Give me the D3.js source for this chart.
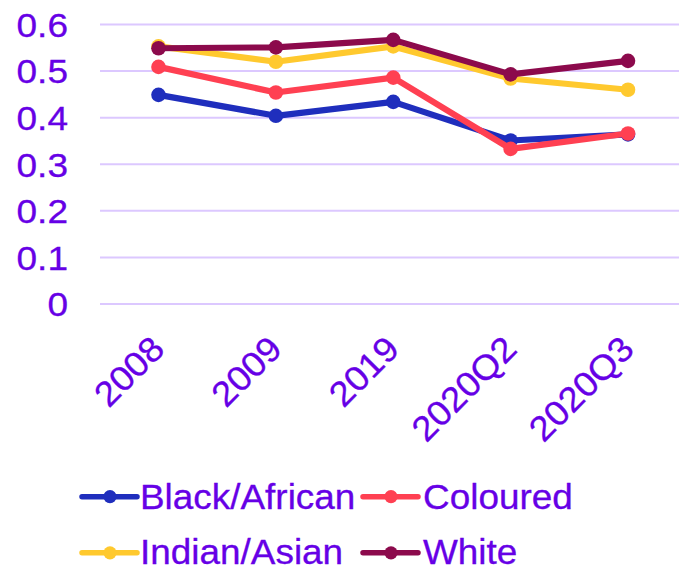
<!DOCTYPE html>
<html>
<head>
<meta charset="utf-8">
<script src="https://cdn.jsdelivr.net/npm/d3@7"></script>
<style>
  html, body { margin: 0; padding: 0; background: #fff; }
  svg { display: block; }
  text { font-family: "Liberation Sans", Arial, sans-serif; fill: #6600E6; stroke: #6600E6; stroke-width: 0.3px; }
</style>
</head>
<body>
<svg id="chart" width="679" height="571"></svg>
<script>
// Categories and series
const categories = ["2008", "2009", "2019", "2020Q2", "2020Q3"];
const blackAfrican = [0.449, 0.404, 0.434, 0.351, 0.364];
const coloured     = [0.509, 0.454, 0.486, 0.333, 0.366];
const indianAsian  = [0.553, 0.520, 0.553, 0.484, 0.460];
const white        = [0.549, 0.551, 0.567, 0.493, 0.522];
const yTicks = [0, 0.1, 0.2, 0.3, 0.4, 0.5, 0.6];

const seriesNames  = ["Black/African", "Coloured", "Indian/Asian", "White"];
const seriesValues = [blackAfrican, coloured, indianAsian, white];
const seriesColors = ["#1F2EBD", "#FF4052", "#FFC92E", "#8C0A4C"];

const svg = d3.select("#chart");

const x = d3.scalePoint().domain(categories).range([158.5, 628]);
const y = d3.scaleLinear().domain([0, 0.6]).range([304, 24.5]);

// Horizontal gridlines
svg.append("g")
  .selectAll("line")
  .data(yTicks)
  .join("line")
  .attr("x1", 100).attr("x2", 679)
  .attr("y1", d => y(d)).attr("y2", d => y(d))
  .attr("stroke", "#DCC8FF")
  .attr("stroke-width", 2);

// Y axis labels (horizontally widened glyphs)
const yStretch = 1.09;
svg.append("g")
  .selectAll("g")
  .data(yTicks)
  .join("g")
  .attr("transform", d => `translate(68,${y(d) + 12.3})`)
  .append("text")
  .attr("transform", `scale(${yStretch},1)`)
  .attr("text-anchor", "end")
  .style("font-size", "34px")
  .text(d => d3.format("")(d));

// X axis labels, rotated
const xStretch = 1.05;
svg.append("g")
  .selectAll("text")
  .data(categories)
  .join("text")
  .attr("transform", d => `translate(${x(d) + 8},351) rotate(-45) scale(${xStretch},1)`)
  .attr("text-anchor", "end")
  .style("font-size", "35px")
  .text(d => d);

// Lines and markers
const line = d3.line()
  .x((d, i) => x(categories[i]))
  .y(d => y(d));

seriesValues.forEach((vals, k) => {
  const g = svg.append("g");
  g.append("path")
    .datum(vals)
    .attr("d", line)
    .attr("fill", "none")
    .attr("stroke", seriesColors[k])
    .attr("stroke-width", 6.2)
    .attr("stroke-linejoin", "round");
  g.selectAll("circle")
    .data(vals)
    .join("circle")
    .attr("cx", (d, i) => x(categories[i]))
    .attr("cy", d => y(d))
    .attr("r", 7.3)
    .attr("fill", seriesColors[k]);
});

// Legend
const legendPos = [
  { lx: 82,  ly: 496.7, tx: 140, ty: 509 },
  { lx: 363, ly: 496.7, tx: 423, ty: 509 },
  { lx: 82,  ly: 552.8, tx: 140, ty: 563.5 },
  { lx: 363, ly: 552.8, tx: 423, ty: 563.5 }
];
const legendStretch = 1.07;
const legend = svg.append("g");
seriesNames.forEach((name, k) => {
  const p = legendPos[k];
  const item = legend.append("g");
  item.append("line")
    .attr("x1", p.lx).attr("x2", p.lx + 55)
    .attr("y1", p.ly).attr("y2", p.ly)
    .attr("stroke", seriesColors[k])
    .attr("stroke-width", 5.5)
    .attr("stroke-linecap", "round");
  item.append("circle")
    .attr("cx", p.lx + 28).attr("cy", p.ly)
    .attr("r", 6.6)
    .attr("fill", seriesColors[k]);
  item.append("g")
    .attr("transform", `translate(${p.tx},${p.ty})`)
    .append("text")
    .attr("transform", `scale(${legendStretch},1)`)
    .style("font-size", "34.5px")
    .text(name);
});
</script>
</body>
</html>
